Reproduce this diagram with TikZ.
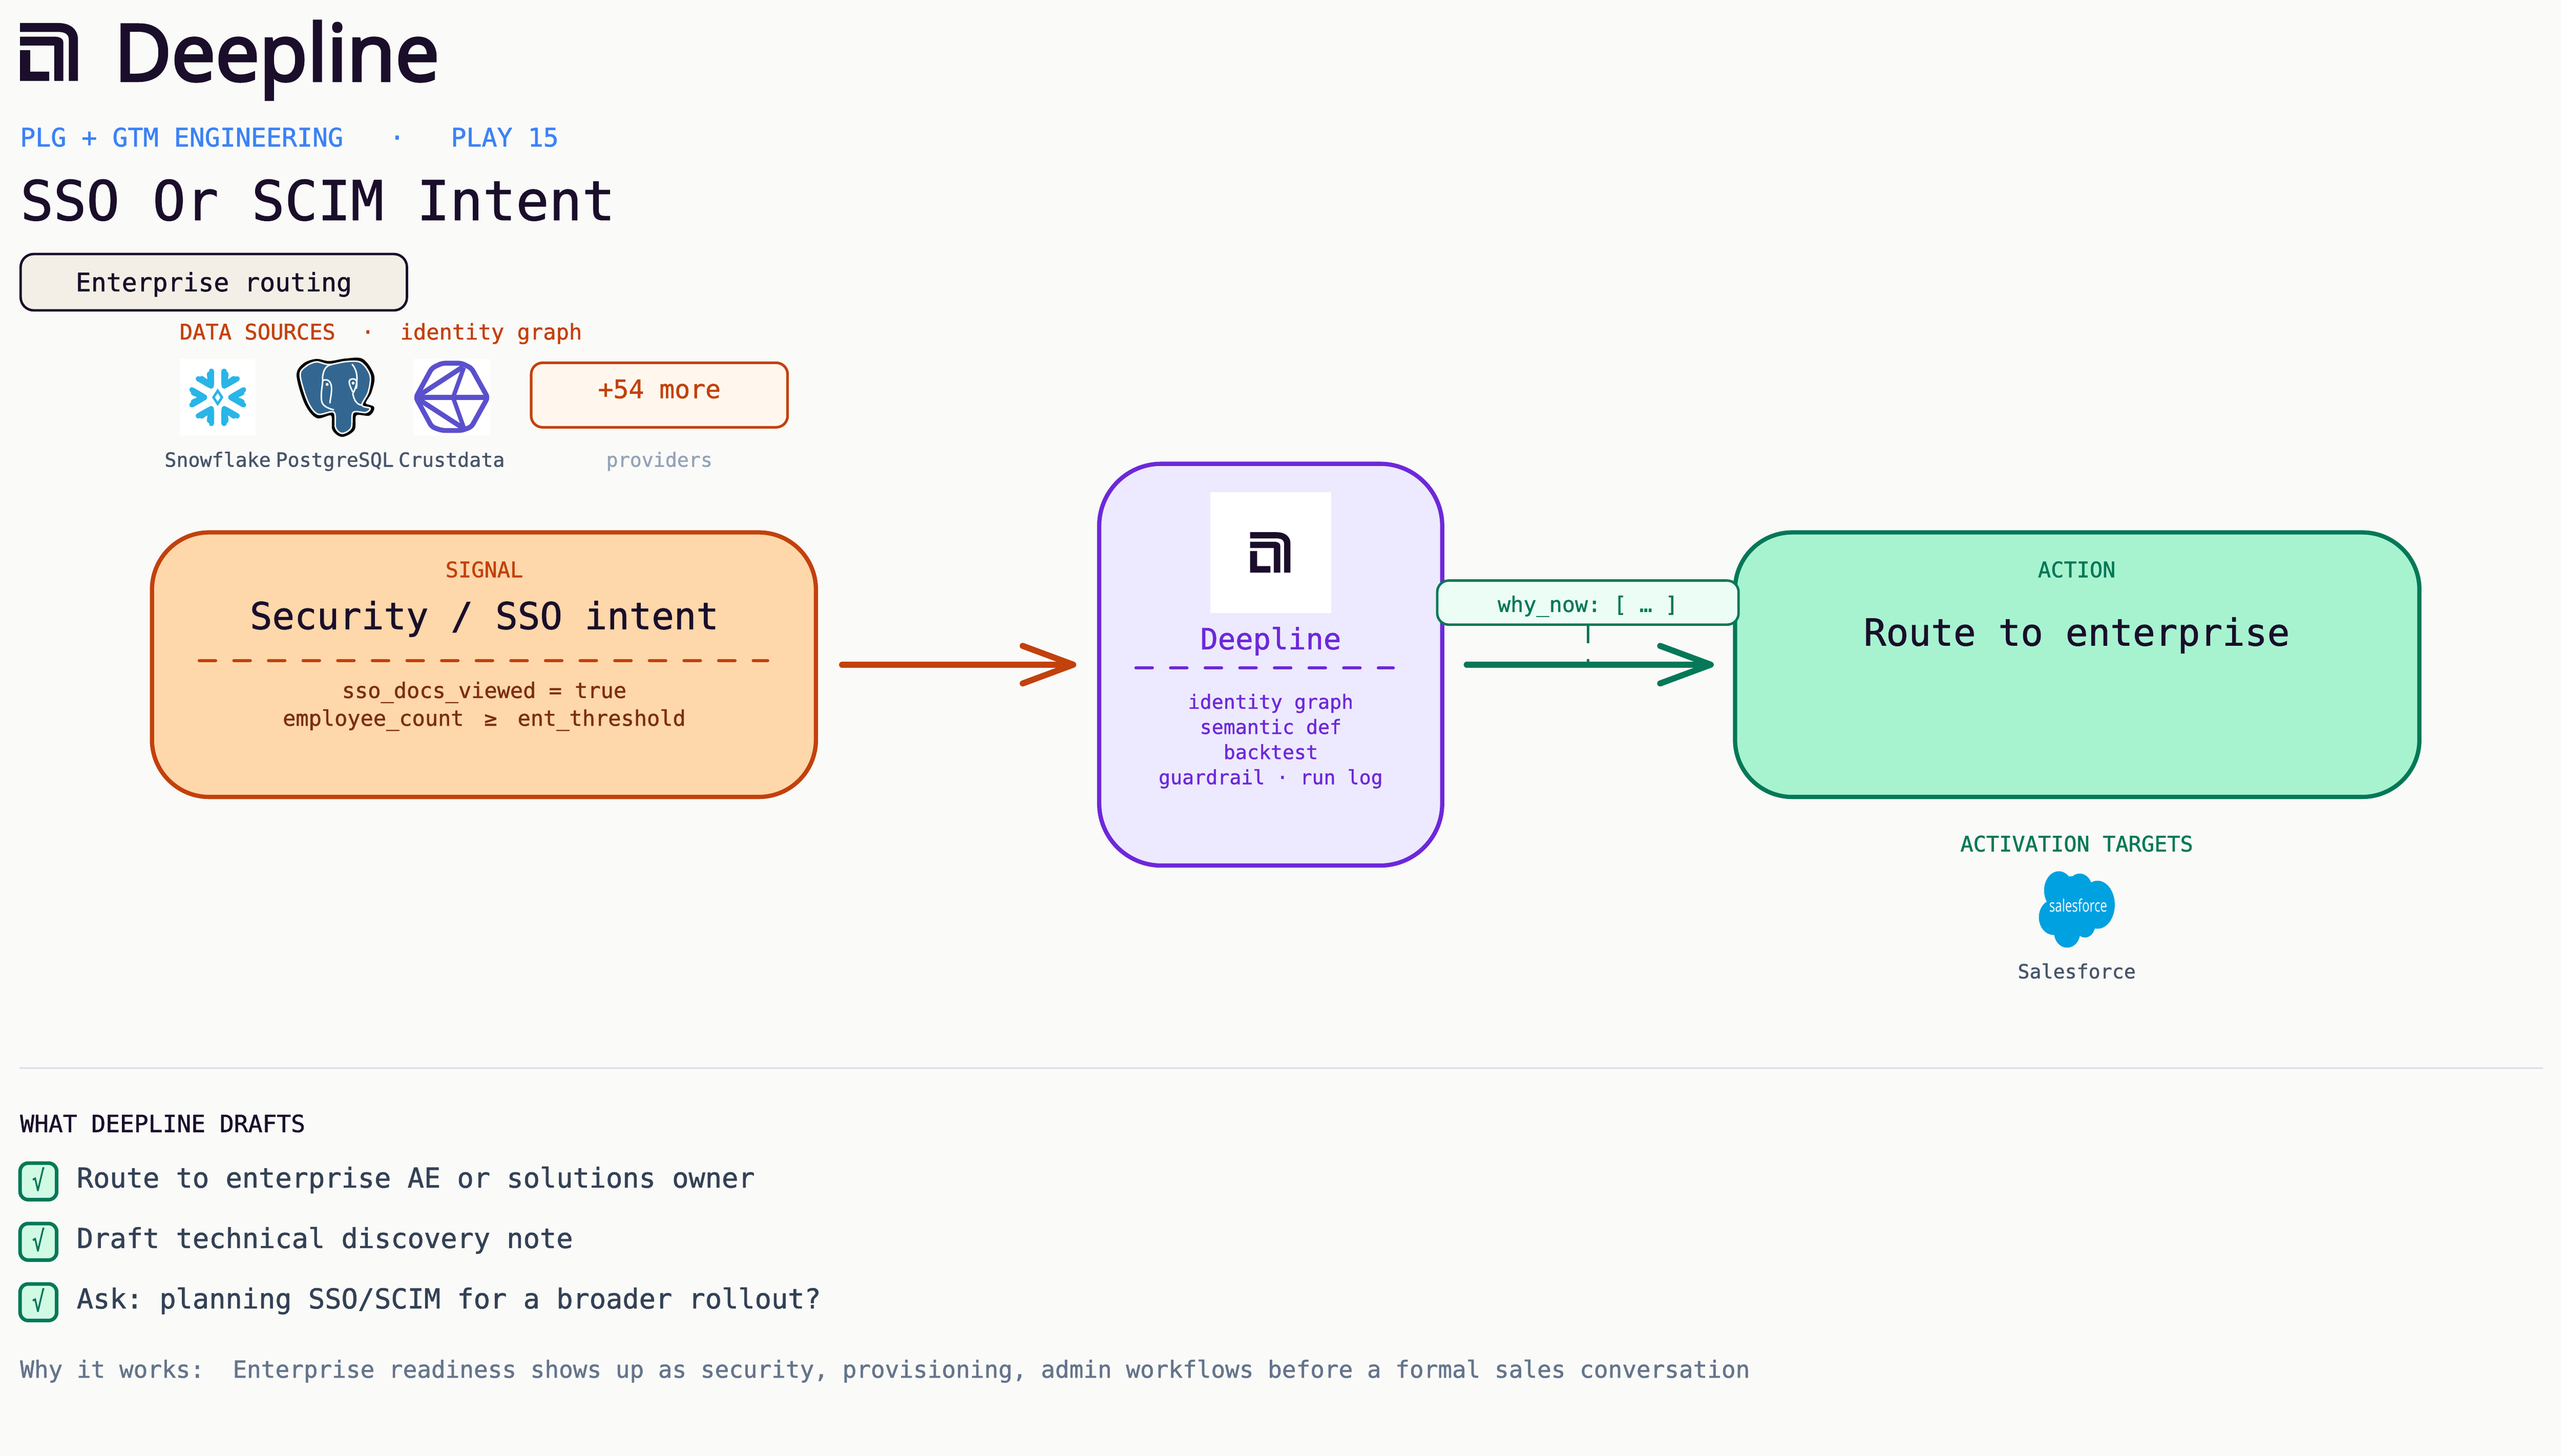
\documentclass[tikz,border=0pt]{standalone}
\usepackage{fontspec}
\setmainfont{Open Sans}
\newfontfamily\brandfont{Open Sans}[FakeBold=3.6]
\setmonofont{DejaVu Sans Mono}[FakeBold=1.2]
\usetikzlibrary{arrows.meta,positioning}
\definecolor{pagebg}{HTML}{FAFAF8}
\definecolor{inkdark}{HTML}{1A0E2B}
\definecolor{bluetag}{HTML}{3B82F6}
\definecolor{pillbg}{HTML}{F3EFE6}
\definecolor{signalred}{HTML}{C2410C}
\definecolor{signaldeep}{HTML}{7C2D12}
\definecolor{signalbg}{HTML}{FED7AA}
\definecolor{morebg}{HTML}{FFF7ED}
\definecolor{corepurple}{HTML}{6D28D9}
\definecolor{corebg}{HTML}{EDE9FE}
\definecolor{actiongreen}{HTML}{047857}
\definecolor{actionbg}{HTML}{A7F3D0}
\definecolor{whybg}{HTML}{ECFDF5}
\definecolor{checkbg}{HTML}{D1FAE5}
\definecolor{labelgrey}{HTML}{475569}
\definecolor{lightgrey}{HTML}{94A3B8}
\definecolor{bodygrey}{HTML}{334155}
\definecolor{whygrey}{HTML}{64748B}
\definecolor{rulegrey}{HTML}{D8DEEA}
\definecolor{snowblue}{HTML}{29B5E8}
\definecolor{pgblue}{HTML}{336791}
\definecolor{crustblue}{HTML}{5B50CC}
\definecolor{sfblue}{HTML}{00A1E0}
\newcommand{\sz}[1]{\ttfamily\fontsize{#1}{#1}\selectfont}
\tikzset{
    txt/.style={inner sep=0pt,outer sep=0pt,anchor=base},
    txtw/.style={inner sep=0pt,outer sep=0pt,anchor=base west},
    panel/.style={draw,line width=2.6pt,outer sep=0pt,inner sep=0pt,rounded corners=#1},
    flowarrow/.style={line width=3.7pt,line cap=round,-{Straight Barb[length=31pt,width=23pt,round]}},
    sepdash/.style={line width=2pt,line cap=round,dash pattern=on 10pt off 11.2pt},
    checkbox/.style={draw=actiongreen,fill=checkbg,line width=2.2pt,rounded corners=5pt,
        minimum width=22.4pt,minimum height=22.4pt,inner sep=0pt,outer sep=0pt},
    deeplinemark/.pic={
        \fill[inkdark] (0,0) -- (.662,0) .. controls (.88,0) and (1,.12) .. (1,.28) -- (1,1)
            -- (.842,1) -- (.842,.28) .. controls (.842,.2) and (.78,.154) .. (.662,.154) -- (0,.154) -- cycle;
        \fill[inkdark] (0,.236) -- (.59,.236) .. controls (.69,.236) and (.748,.27) .. (.748,.34) -- (.748,1)
            -- (.59,1) -- (.59,.39) -- (0,.39) -- cycle;
        \fill[inkdark] (0,.468) -- (.173,.468) -- (.173,.84) -- (.504,.84) -- (.504,1) -- (0,1) -- cycle;
    }
}
\begin{document}
\begin{tikzpicture}[x=1pt,y=-1pt]
    \fill[pagebg] (0,0) rectangle (1568,891.4);
    \useasboundingbox (0,0) rectangle (1568,891.4);

    % header
    \pic (logomark) [scale=35.4] at (12.3,14.1) {deeplinemark};
    \node[txtw,font=\brandfont\fontsize{48}{48}\selectfont,text=inkdark] (brand) at (70,49.4) {Deepline};
    \node[txtw,font=\sz{15.65},text=bluetag] (tagline) at (12.3,89.7) {PLG + GTM ENGINEERING~~~·~~~PLAY 15};
    \node[txtw,font=\sz{33.6},text=inkdark] (title) at (12.5,134.8) {SSO Or SCIM Intent};
    \node[draw=inkdark,fill=pillbg,line width=1.5pt,rounded corners=8pt,minimum width=236.5pt,minimum height=34.5pt,
        inner sep=0pt,outer sep=0pt] (pill) at (130.9,172.8) {};
    \node[txt,font=\sz{15.6},text=inkdark] (pilltext) at (130.9,178.4) {Enterprise routing};

    % data sources
    \node[txtw,font=\sz{13.2},text=signalred] (srchead) at (110,207.9) {DATA SOURCES~~·~~identity graph};
    \node[fill=white,minimum width=46.6pt,minimum height=46.7pt,inner sep=0pt] (snowlogo) at (133.3,243.3) {};
    \node[fill=white,minimum width=47pt,minimum height=46.7pt,inner sep=0pt] (crustlogo) at (276.5,243.3) {};
    \begin{scope}[shift={(133.3,243.3)}]
        \foreach \ang in {0,60,...,300}{
            \begin{scope}[rotate=\ang]
                \draw[snowblue,line width=3.2pt,line cap=round] (-3.9,-16) -- (-3.9,-8);
                \draw[snowblue,line width=3.2pt,line cap=round] (3.9,-16) -- (3.9,-8);
                \draw[snowblue,line width=3.2pt,line cap=round] (-9.8,-11.5) -- (-3.9,-7);
                \draw[snowblue,line width=3.2pt,line cap=round] (9.8,-11.5) -- (3.9,-7);
                \fill[snowblue] (-3.9,-13) -- (-3.9,-6.5) -- (-8,-10) -- cycle;
                \fill[snowblue] (3.9,-13) -- (3.9,-6.5) -- (8,-10) -- cycle;
            \end{scope}
        }
        \draw[snowblue,line width=1.5pt] (0,-4) -- (2.6,0) -- (0,4) -- (-2.6,0) -- cycle;
    \end{scope}

    % elephant
    \draw[black,fill=black,line width=1pt,smooth cycle,tension=.55] plot coordinates {(182.1,230) (186,223) (193.6,220.3)
        (201.5,221.6) (212,220) (222,220.3) (228.6,230) (227,240) (223.4,247) (228.6,249.5) (226,254) (217.8,254)
        (216.6,263) (209.5,267) (204,263) (203,254) (194,255.5) (187,247)};
    \draw[white,fill=pgblue,line width=.9pt,smooth cycle,tension=.55] plot coordinates {(183.8,230) (187,224.5) (193.6,221.6)
        (201.5,223.2) (212,221.4) (221,222) (226.6,230) (225.5,240) (221.6,248) (226.6,250) (224,252.6) (216.2,252.6)
        (215,262) (209.5,265.4) (205.5,262) (204.4,252.4) (194.6,253.6) (188.5,246)};
    \draw[white,line width=.9pt] (197.5,231) .. controls (198,226) and (200,223.5) .. (203.5,223.2);
    \draw[white,line width=.9pt] (197.5,231) .. controls (198,235) and (196,240) .. (197,246) .. controls (198,249) and (201,250) .. (204.4,251);
    \draw[white,line width=.9pt] (215.5,223) .. controls (220,228) and (219,236) .. (216,241) .. controls (216.5,244) and (218,248) .. (221.6,248);
    \draw[white,line width=.9pt] (197.5,233) .. controls (201,231.5) and (203,234) .. (203,238) .. controls (203,242) and (202,245) .. (202,247);
    \draw[white,line width=.9pt] (216,240) .. controls (213,234) and (213,232) .. (216.5,232) .. controls (218.5,232) and (219,235) .. (218,238);
    \fill[white] (200.3,235.4) circle (.9pt);
    \fill[white] (216.2,234.6) circle (.9pt);

    % crustdata mark
    \draw[crustblue,line width=3pt,line join=round,rounded corners=2pt] (270.6,222.4) -- (282.6,222.4) -- (288.6,225.4)
        -- (298.6,243.4) -- (288.6,261.4) -- (282.6,263.6) -- (270.6,263.6) -- (264.4,261.4) -- (254.6,243.4) -- (264.4,225.4) -- cycle;
    \draw[crustblue,line width=3pt,line join=round] (254.6,243.4) -- (298.6,243.4);
    \draw[crustblue,line width=3pt,line join=round] (254.6,243.4) -- (283.6,224.5) ;
    \draw[crustblue,line width=3pt,line join=round] (254.6,243.4) -- (283.6,262.2);
    \draw[crustblue,line width=2.6pt,line join=round] (284,225) -- (277.4,243.4) -- (284,262);
    \node[draw=signalred,fill=morebg,line width=1.6pt,rounded corners=7pt,minimum width=157pt,minimum height=39.5pt,
        inner sep=0pt,outer sep=0pt] (moreprov) at (403.7,241.9) {};
    \node[txt,font=\sz{15.6},text=signalred] (moretext) at (403.7,243.8) {+54 more};
    \node[txt,font=\sz{12},text=labelgrey] (snowlabel) at (133.3,285.8) {Snowflake};
    \node[txt,font=\sz{12},text=labelgrey] (pglabel) at (205,285.8) {PostgreSQL};
    \node[txt,font=\sz{12},text=labelgrey] (crustlabel) at (276.5,285.8) {Crustdata};
    \node[txt,font=\sz{12},text=lightgrey] (provlabel) at (403.7,285.8) {providers};

    % signal
    \node[panel=35pt,draw=signalred,fill=signalbg,minimum width=406.5pt,minimum height=162pt] (signal) at (296.3,407) {};
    \node[txt,font=\sz{13.15},text=signalred] (signalhead) at (296.5,353.5) {SIGNAL};
    \node[txt,font=\sz{22.7},text=inkdark] (signalname) at (296.5,385.2) {Security / SSO intent};
    \draw[signalred,sepdash] (122,404.5) -- (470,404.5);
    \node[txt,font=\sz{13.15},text=signaldeep] (signalone) at (296.5,427.4) {sso\_docs\_viewed = true};
    \node[txt,font=\sz{13.15},text=signaldeep] (signaltwo) at (296.5,444.4) {employee\_count\hspace{4.6pt} ≥\hspace{4.6pt} ent\_threshold};

    % deepline core
    \node[panel=38pt,draw=corepurple,fill=corebg,minimum width=210pt,minimum height=246pt] (core) at (778,407) {};
    \node[fill=white,minimum width=74pt,minimum height=74pt,inner sep=0pt] (corelogo) at (777.9,338.3) {};
    \pic (coremark) [scale=24.7] at (765.4,325.9) {deeplinemark};
    \node[txt,font=\sz{17.9},text=corepurple] (corename) at (778,397.6) {Deepline};
    \draw[corepurple,sepdash] (695.5,409) -- (853,409);
    \node[txt,font=\sz{12},text=corepurple] (coreone) at (778,434) {identity graph};
    \node[txt,font=\sz{12},text=corepurple] (coretwo) at (778,449.4) {semantic def};
    \node[txt,font=\sz{12},text=corepurple] (corethree) at (778,464.8) {backtest};
    \node[txt,font=\sz{12},text=corepurple] (corefour) at (778,480.2) {guardrail · run log};

    % action
    \node[panel=35pt,draw=actiongreen,fill=actionbg,minimum width=419pt,minimum height=162pt] (action) at (1271.8,407) {};
    \node[txt,font=\sz{13.15},text=actiongreen] (actionhead) at (1271.5,353.5) {ACTION};
    \node[txt,font=\sz{22.8},text=inkdark] (actionname) at (1271.5,395.3) {Route to enterprise};

    % connectors
    \draw[signalred,flowarrow,shorten <=16pt,shorten >=14pt] (signal) -- (core);
    \draw[actiongreen,flowarrow,shorten <=15pt,shorten >=13pt] (core) -- (action);
    \coordinate (whyfoot) at (972.2,407);
    \node[draw=actiongreen,fill=whybg,line width=1.5pt,rounded corners=7pt,minimum width=184.5pt,minimum height=27pt,
        inner sep=0pt,outer sep=0pt] (whybox) at (972.2,369) {};
    \node[txt,font=\sz{13.1},text=actiongreen] (whytext) at (972.2,374.7) {why\_now: [ … ]};
    \draw[actiongreen,line width=1.5pt,dash pattern=on 11.5pt off 9.5pt] (whybox) -- (whyfoot);

    % targets
    \node[txt,font=\sz{13.15},text=actiongreen] (targethead) at (1271.5,521.4) {ACTIVATION TARGETS};
    \fill[sfblue] (1260.5,545.3) ellipse (9pt and 11.8pt);
    \fill[sfblue] (1273.3,544.2) ellipse (7.7pt and 9.3pt);
    \fill[sfblue] (1284.2,554) ellipse (10.6pt and 14.7pt);
    \fill[sfblue] (1257.3,561.7) ellipse (9pt and 10.8pt);
    \fill[sfblue] (1265.6,571) ellipse (8pt and 9.3pt);
    \fill[sfblue] (1276.5,565.9) ellipse (6.4pt and 8.2pt);
    \fill[sfblue] (1268.8,554.5) ellipse (14pt and 18pt);
    \node[txt,font=\rmfamily\fontsize{10.5}{10.5}\selectfont,text=white] (sfword) at (1272.4,558.4) {\scalebox{.72}[1]{salesforce}};
    \node[txt,font=\sz{12},text=labelgrey] (sflabel) at (1271.5,599.1) {Salesforce};

    % drafts
    \draw[rulegrey,line width=1pt] (12,654) -- (1557,654);
    \node[txtw,font=\sz{14.5},text=inkdark] (drafthead) at (12.3,693.2) {WHAT DEEPLINE DRAFTS};
    \foreach \yy/\nm/\txtline in {723.4/one/{Route to enterprise AE or solutions owner},
        760.4/two/{Draft technical discovery note},
        797.4/three/{Ask: planning SSO/SCIM for a broader rollout?}}{
        \node[checkbox] (check\nm) at (23.5,\yy) {};
        \node[txt,font=\sz{17},text=actiongreen] (tick\nm) at (23.5,\yy+5.5) {\scalebox{.75}[1]{√}};
        \node[txtw,font=\sz{16.82},text=bodygrey] (draft\nm) at (47,\yy+3.8) {\txtline};
    }
    \node[txtw,font=\sz{14.42},text=whygrey] (whyworks) at (12.3,843.6) {Why it works:~~Enterprise readiness shows up as security, provisioning, admin workflows before a formal sales conversation};
\end{tikzpicture}
\end{document}
